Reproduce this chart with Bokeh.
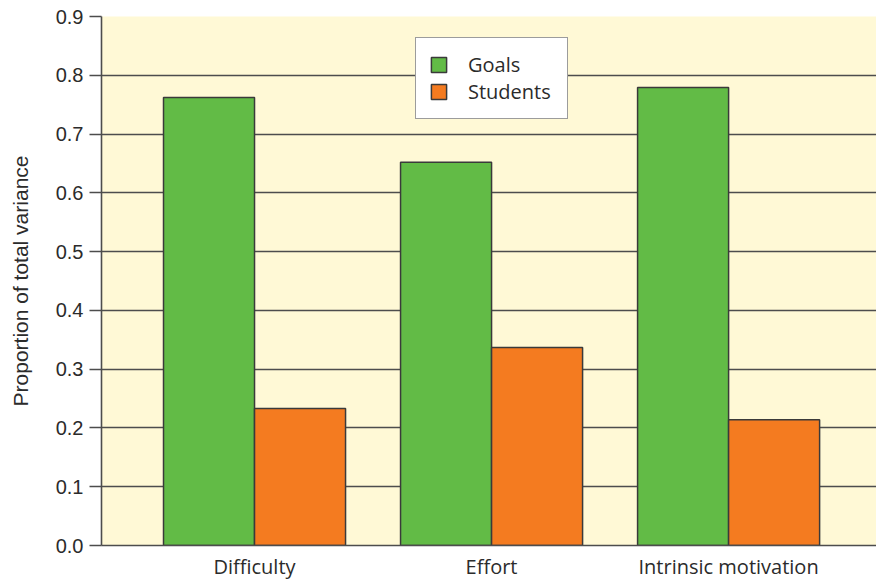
from bokeh.plotting import figure
from bokeh.models import ColumnDataSource, FixedTicker, NumeralTickFormatter, Range1d, Legend, LegendItem
from bokeh.embed import file_html
from bokeh.resources import INLINE

categories = ["Difficulty", "Effort", "Intrinsic motivation"]
goals = [0.762, 0.652, 0.779]
students = [0.233, 0.337, 0.214]
y_ticks = [0.0, 0.1, 0.2, 0.3, 0.4, 0.5, 0.6, 0.7, 0.8, 0.9]

bar_w = 0.384
idx = list(range(len(categories)))
src = ColumnDataSource(dict(
    x=idx,
    xg=[i - bar_w / 2 for i in idx],
    xs=[i + bar_w / 2 for i in idx],
    goals=goals,
    students=students,
))

p = figure(width=876, height=582, output_backend="svg", toolbar_location=None,
           x_range=Range1d(-0.6456, 2.624), y_range=Range1d(0, 0.9),
           min_border_left=101, min_border_top=16, min_border_right=0, min_border_bottom=37)
p.background_fill_color = "#FFF9D6"
p.border_fill_color = "white"
p.outline_line_color = None

text_col = "#2b2b2b"
line_col = "#4d4d4d"

p.xgrid.visible = False
p.ygrid.ticker = FixedTicker(ticks=y_ticks)
p.ygrid.grid_line_color = line_col
p.ygrid.grid_line_width = 1.6

r1 = p.vbar(x="xg", top="goals", width=bar_w, source=src, fill_color="#62BB46",
            line_color="#3a3a3a", line_width=1.5)
r2 = p.vbar(x="xs", top="students", width=bar_w, source=src, fill_color="#F47B20",
            line_color="#3a3a3a", line_width=1.5)

# y axis
ya = p.yaxis[0]
ya.ticker = FixedTicker(ticks=y_ticks)
ya.formatter = NumeralTickFormatter(format="0.0")
ya.axis_line_color = line_col
ya.axis_line_width = 1.6
ya.major_tick_line_color = line_col
ya.major_tick_line_width = 1.6
ya.major_tick_out = 12
ya.major_tick_in = 0
ya.minor_tick_line_color = None
ya.major_label_text_font = "Liberation Sans"
ya.major_label_text_font_size = "20px"
ya.major_label_text_color = text_col
ya.major_label_standoff = 6
ya.axis_label = "Proportion of total variance"
ya.axis_label_text_font = "Liberation Sans"
ya.axis_label_text_font_style = "normal"
ya.axis_label_text_font_size = "21px"
ya.axis_label_text_color = text_col
ya.axis_label_standoff = 21

# x axis
xa = p.xaxis[0]
xa.ticker = FixedTicker(ticks=idx)
xa.major_label_overrides = {i: c for i, c in zip(idx, categories)}
xa.axis_line_color = line_col
xa.axis_line_width = 1.6
xa.major_tick_line_color = None
xa.minor_tick_line_color = None
xa.major_tick_out = 0
xa.major_tick_in = 0
xa.major_label_text_font = "Open Sans"
xa.major_label_text_font_size = "20px"
xa.major_label_text_color = text_col
xa.major_label_text_line_height = 0.75
xa.major_label_standoff = 7

legend = Legend(items=[LegendItem(label="Goals", renderers=[r1]),
                       LegendItem(label="Students", renderers=[r2])],
                location=(314, 426))
legend.background_fill_color = "white"
legend.background_fill_alpha = 1
legend.border_line_color = "#3a3a3a"
legend.border_line_width = 1.5
legend.label_text_font = "Open Sans"
legend.label_text_font_size = "20px"
legend.label_text_color = text_col
legend.glyph_width = 19
legend.glyph_height = 19
legend.label_standoff = 20
legend.spacing = 0
legend.padding = 13
legend.margin = 0
legend.label_height = 27
legend.label_width = 86
p.add_layout(legend, "center")

open("out.html", "w").write(file_html(p, INLINE))
